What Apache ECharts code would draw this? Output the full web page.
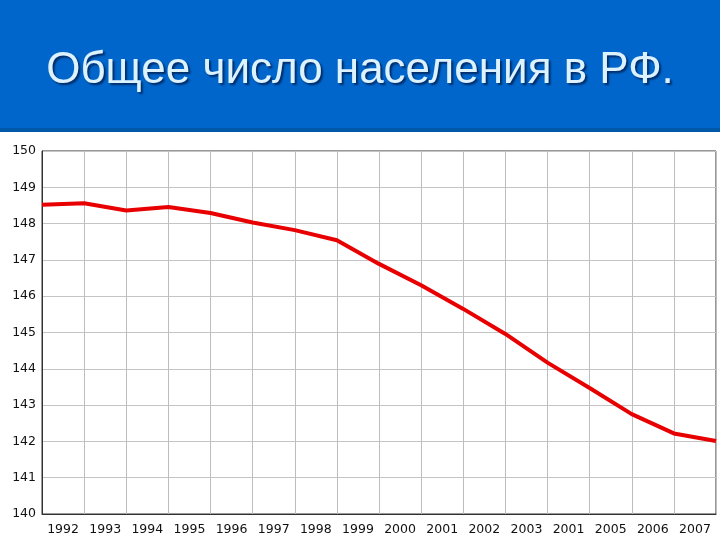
<!DOCTYPE html>
<html>
<head>
<meta charset="utf-8">
<script src="https://cdn.jsdelivr.net/npm/echarts@6/dist/echarts.min.js"></script>
<style>
html,body{margin:0;padding:0;background:#fff;}
#chart{width:720px;height:540px;}
</style>
</head>
<body>
<div id="chart"></div>
<script>
const titleText = "Общее число населения в РФ.";
const yearLabels = ["1992","1993","1994","1995","1996","1997","1998","1999","2000","2001","2002","2003","2001","2005","2006","2007"];
const pointYears = [1992,1993,1994,1995,1996,1997,1998,1999,2000,2001,2002,2003,2004,2005,2006,2007,2008];
const population = [148.52,148.56,148.36,148.46,148.29,148.03,147.82,147.54,146.89,146.30,145.65,144.96,144.17,143.47,142.75,142.22,142.01];

const chart = echarts.init(document.getElementById('chart'), null, {renderer:'canvas'});
const font = 'DejaVu Sans';
chart.setOption({
  animation:false,
  backgroundColor:'#ffffff',
  graphic:[
    {type:'rect', left:0, top:0, shape:{width:720,height:130}, style:{fill:'#0066cc'}, z:-10},
    {type:'rect', left:0, top:128, shape:{width:720,height:4}, style:{fill:'#0058a8'}, z:-10}
  ],
  title:{
    text:titleText,
    left:'center',
    top:44,
    textStyle:{
      fontFamily:'Liberation Sans',
      fontSize:44,
      fontWeight:'normal',
      color:'#dcf2ff',
      textShadowColor:'rgba(0,20,60,0.7)',
      textShadowOffsetX:2,
      textShadowOffsetY:2,
      textShadowBlur:2
    }
  },
  grid:{left:42,right:4,top:151,bottom:26,show:true,borderColor:'#333',borderWidth:1,backgroundColor:'transparent'},
  xAxis:[
    {
      type:'category',
      data:yearLabels,
      boundaryGap:true,
      axisLine:{show:true,lineStyle:{color:'#333',width:1}},
      axisTick:{show:false},
      axisLabel:{color:'#111',fontSize:12.5,fontFamily:font,margin:9,interval:0},
      splitLine:{show:true,lineStyle:{color:'#bdbdbd',width:1}}
    },
    {
      type:'value',
      min:1992,
      max:2008,
      show:false
    }
  ],
  yAxis:{
    type:'value',
    min:140,
    max:150,
    interval:1,
    axisLine:{show:true,lineStyle:{color:'#333',width:1}},
    axisTick:{show:false},
    axisLabel:{color:'#111',fontSize:12.5,fontFamily:font,margin:6},
    splitLine:{show:true,lineStyle:{color:'#c4c4c4',width:1}}
  },
  series:[{
    type:'line',
    xAxisIndex:1,
    data:pointYears.map((y,i)=>[y,population[i]]),
    showSymbol:false,
    lineStyle:{color:'#e80000',width:4},
    itemStyle:{color:'#e80000'},
    z:5
  }]
});
</script>
</body>
</html>
